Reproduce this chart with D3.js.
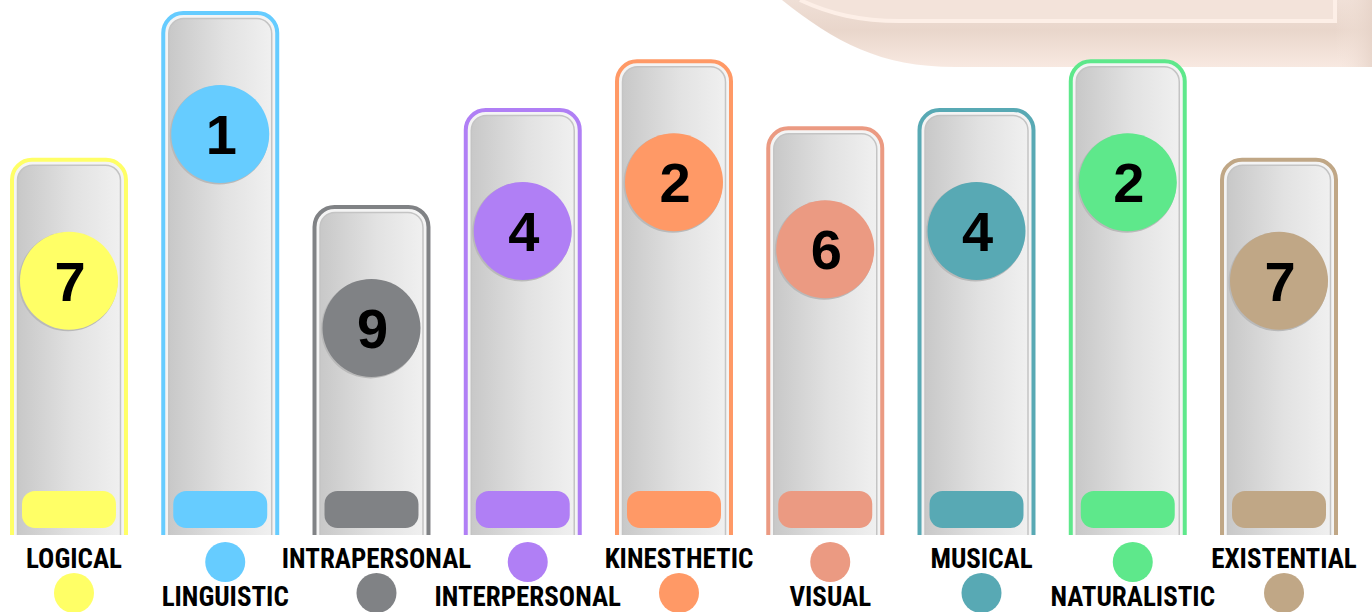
<!DOCTYPE html>
<html>
<head>
<meta charset="utf-8">
<script src="https://cdn.jsdelivr.net/npm/d3@7"></script>
<style>
  html, body { margin: 0; padding: 0; background: #fff; }
  svg { display: block; }
</style>
</head>
<body>
<svg id="chart" width="1372" height="612"></svg>
<script>
// ---- data ----
const categories = ["LOGICAL", "LINGUISTIC", "INTRAPERSONAL", "INTERPERSONAL", "KINESTHETIC", "VISUAL", "MUSICAL", "NATURALISTIC", "EXISTENTIAL"];
const scores = [72, 100, 63, 81.5, 90.8, 78, 81.5, 90.8, 72];
const ranks = ["7", "1", "9", "4", "2", "6", "4", "2", "7"];
const colors = ["#ffff66", "#66ccff", "#808285", "#b07ff5", "#ff9966", "#eb9a82", "#58a9b4", "#5ee88b", "#c0a786"];

const W = 1372, H = 612;
const svg = d3.select("#chart");
const defs = svg.append("defs");

// gradients
const g1 = defs.append("linearGradient").attr("id", "barGrad").attr("x1", "0").attr("x2", "1").attr("y1", "0").attr("y2", "0");
g1.append("stop").attr("offset", "0").attr("stop-color", "#c8c8c8");
g1.append("stop").attr("offset", "0.55").attr("stop-color", "#e2e2e2");
g1.append("stop").attr("offset", "1").attr("stop-color", "#f0f0f0");

const pg = defs.append("linearGradient").attr("id", "peachGrad").attr("x1", "0").attr("x2", "0").attr("y1", "0").attr("y2", "1");
pg.append("stop").attr("offset", "0").attr("stop-color", "#efdfd6");
pg.append("stop").attr("offset", "0.45").attr("stop-color", "#e9d6cb");
pg.append("stop").attr("offset", "1").attr("stop-color", "#f8e9e1");

const pg2 = defs.append("linearGradient").attr("id", "peachSide").attr("x1", "0").attr("x2", "1").attr("y1", "0").attr("y2", "0");
pg2.append("stop").attr("offset", "0").attr("stop-color", "#f8e9e1").attr("stop-opacity", 0);
pg2.append("stop").attr("offset", "1").attr("stop-color", "#e6d3c8").attr("stop-opacity", 0.8);

defs.append("clipPath").attr("id", "clipBars")
  .append("rect").attr("x", 0).attr("y", 0).attr("width", W).attr("height", 535);

// ---- background decoration (top right) ----
const deco = svg.append("g");
deco.append("path")
  .attr("d", "M782,0 C835,42 880,67 955,67 L1372,67 L1372,0 Z")
  .attr("fill", "url(#peachGrad)");
deco.append("rect").attr("x", 1335).attr("y", 0).attr("width", 37).attr("height", 67).attr("fill", "url(#peachSide)");
deco.append("path")
  .attr("d", "M800,0 C830,14 860,21 900,21 L1335,21 L1335,0 Z")
  .attr("fill", "#f3e3da");
deco.append("path")
  .attr("d", "M800,0 C830,14 860,21 900,21 L1335,21 L1335,0")
  .attr("fill", "none").attr("stroke", "#fdefe7").attr("stroke-width", 4);

// ---- scales ----
const x = d3.scaleBand().domain(categories).range([10, 1338]).paddingInner(0.22).paddingOuter(0);
const y = d3.scaleLinear().domain([0, 100]).range([535, 11]);
const bw = x.bandwidth();

const bars = svg.append("g").attr("clip-path", "url(#clipBars)")
  .selectAll("g.bar").data(categories).join("g").attr("class", "bar");

bars.each(function(c, i) {
  const g = d3.select(this);
  const x0 = x(c), top = y(scores[i]), bottom = 570;
  // outer colored frame
  g.append("rect")
    .attr("x", x0 + 2).attr("y", top + 2)
    .attr("width", bw - 4).attr("height", bottom - top)
    .attr("rx", 20).attr("fill", "#f4f4f4")
    .attr("stroke", colors[i]).attr("stroke-width", 4);
  // inner gray capsule
  g.append("rect")
    .attr("x", x0 + 7.5).attr("y", top + 7.5)
    .attr("width", bw - 15).attr("height", bottom - top)
    .attr("rx", 15).attr("fill", "url(#barGrad)")
    .attr("stroke", "#c4c4c4").attr("stroke-width", 1.5);
  // bottom pill
  g.append("rect")
    .attr("x", x0 + 12).attr("y", 491)
    .attr("width", bw - 24).attr("height", 37)
    .attr("rx", 13).attr("fill", colors[i]);
  // rank circle
  const cx = x0 + bw / 2, cy = top + 123;
  g.append("circle").attr("cx", cx - 1).attr("cy", cy + 1).attr("r", 49.5).attr("fill", "#b9b9b9");
  g.append("circle").attr("cx", cx).attr("cy", cy).attr("r", 49).attr("fill", colors[i]);
  g.append("text")
    .attr("x", cx + 1).attr("y", cy + 20)
    .attr("text-anchor", "middle")
    .attr("font-family", "'Liberation Sans', Arial, sans-serif")
    .attr("font-weight", "bold").attr("font-size", 56)
    .attr("fill", "#000")
    .text(ranks[i]);
});

// ---- legend labels ----
const leg = svg.append("g").selectAll("g").data(categories).join("g");
leg.each(function(c, i) {
  const g = d3.select(this);
  const cx = x(c) + bw / 2 + 5;
  const even = i % 2 === 0;
  g.append("text")
    .attr("x", cx).attr("y", even ? 568 : 606)
    .attr("text-anchor", "middle")
    .attr("font-family", "'Liberation Sans Narrow', 'Arial Narrow', 'Roboto Condensed', sans-serif")
    .attr("font-weight", "bold").attr("font-size", 27)
    .attr("fill", "#000")
    .text(c);
  g.append("circle")
    .attr("cx", cx).attr("cy", even ? 593 : 562).attr("r", 20)
    .attr("fill", colors[i]);
});
</script>
</body>
</html>
